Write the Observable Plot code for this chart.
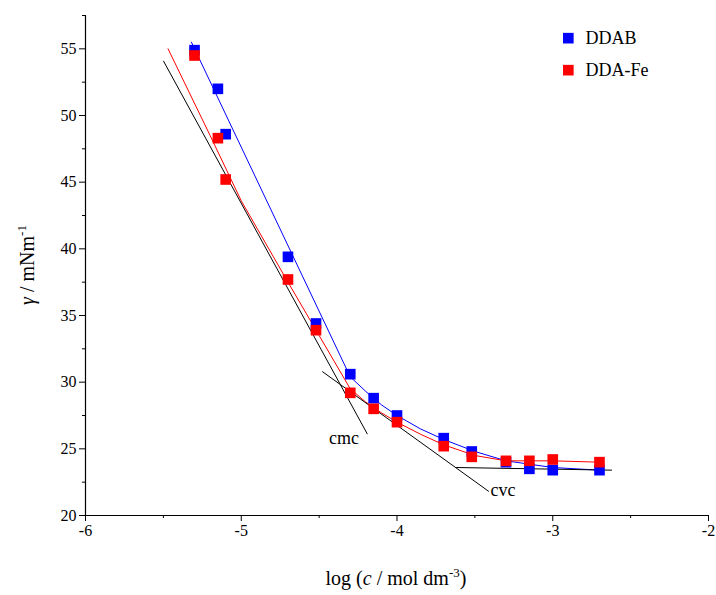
<!DOCTYPE html>
<html><head><meta charset="utf-8">
<script src="https://cdn.jsdelivr.net/npm/d3@7"></script>
<script src="https://cdn.jsdelivr.net/npm/@observablehq/plot@0.6"></script>
<style>body{margin:0;background:#fff}</style>
</head><body><div id="chart"></div>
<script>
const logc = [-5.3, -5.15, -5.1, -4.7, -4.52, -4.3, -4.15, -4.0, -3.7, -3.52, -3.3, -3.15, -3.0, -2.7];
const ddab = [54.9, 52.0, 48.6, 39.4, 34.4, 30.6, 28.8, 27.5, 25.8, 24.8, 24.0, 23.5, 23.4, 23.4];
const ddaFe = [54.5, 48.3, 45.2, 37.7, 33.9, 29.2, 28.0, 27.0, 25.2, 24.4, 24.1, 24.1, 24.2, 24.0];
// fitted curves
const fitBlueX = [-5.32, -4.3, -4.2, -4.1, -4.0, -3.85, -3.7, -3.5, -3.3, -3.0, -2.7];
const fitBlueY = [55.5, 30.4, 29.3, 28.3, 27.5, 26.5, 25.7, 24.8, 24.1, 23.6, 23.4];
const fitRedX = [-5.47, -5.2, -5.0, -4.7, -4.5, -4.3, -4.2, -4.1, -4.0, -3.85, -3.7, -3.5, -3.3, -3.0, -2.7];
const fitRedY = [55.0, 48.5, 43.6, 37.5, 33.5, 29.5, 28.5, 27.7, 27.0, 26.1, 25.3, 24.5, 24.1, 24.1, 24.0];
// tangent lines
const tangents = [
  {x1: -5.5, y1: 54.1, x2: -4.19, y2: 26.1},
  {x1: -4.48, y1: 30.8, x2: -3.41, y2: 21.8},
  {x1: -3.62, y1: 23.6, x2: -2.62, y2: 23.4}
];
const notes = [{x: -4.34, y: 25.8, t: "cmc"}, {x: -3.32, y: 21.9, t: "cvc"}];
const xTicks = [-6, -5, -4, -3, -2];
const xMinor = [-5.5, -4.5, -3.5, -2.5];
const yTicks = [20, 25, 30, 35, 40, 45, 50, 55];
const yMinor = [22.5, 27.5, 32.5, 37.5, 42.5, 47.5, 52.5, 57.5];

const pts = (ys) => logc.map((x, i) => ({x, y: ys[i]}));
const line = (xs, ys) => xs.map((x, i) => ({x, y: ys[i]}));
const font = "Liberation Serif, Times New Roman, serif";

const chart = Plot.plot({
  width: 716, height: 595,
  marginLeft: 85, marginRight: 8, marginTop: 15, marginBottom: 80,
  style: {fontFamily: font, fontSize: "16px", color: "#000", overflow: "visible"},
  x: {domain: [-6, -2], label: null},
  y: {domain: [20, 57.5], label: null},
  marks: [
    Plot.axisX(xTicks, {tickSize: 6, fontSize: 16, tickFormat: d => String(d)}),
    Plot.axisX(xMinor, {tickSize: 3, text: null}),
    Plot.axisY(yTicks, {tickSize: 6, fontSize: 16, tickFormat: d => String(d)}),
    Plot.axisY(yMinor, {tickSize: 3, text: null}),
    Plot.ruleX([-6], {stroke: "#000", strokeWidth: 1.2}),
    Plot.ruleY([20], {stroke: "#000", strokeWidth: 1.2}),
    Plot.line(line(fitBlueX, fitBlueY), {x: "x", y: "y", stroke: "#0000ff", strokeWidth: 1}),
    Plot.line(line(fitRedX, fitRedY), {x: "x", y: "y", stroke: "#ff0000", strokeWidth: 1}),
    Plot.link(tangents, {x1: "x1", y1: "y1", x2: "x2", y2: "y2", stroke: "#000", strokeWidth: 1}),
    Plot.dot(pts(ddab), {x: "x", y: "y", symbol: "square", fill: "#0000ff", r: 6}),
    Plot.dot(pts(ddaFe), {x: "x", y: "y", symbol: "square", fill: "#ff0000", r: 6}),
    Plot.text(notes, {x: "x", y: "y", text: "t", fontSize: 18, fill: "#000"}),
    Plot.dot([{x: -2.9, y: 55.8, c: "#0000ff"}, {x: -2.9, y: 53.4, c: "#ff0000"}], {x: "x", y: "y", symbol: "square", fill: "c", r: 6}),
    Plot.text([{x: -2.79, y: 55.8, t: "DDAB"}, {x: -2.79, y: 53.4, t: "DDA-Fe"}], {x: "x", y: "y", text: "t", textAnchor: "start", fontSize: 18, fill: "#000"})
  ]
});
const svg = d3.select(chart);
const xl = svg.append("text").attr("x", 396).attr("y", 585).attr("text-anchor", "middle")
  .style("font-family", font).style("font-size", "20px");
xl.append("tspan").text("log (");
xl.append("tspan").text("c").style("font-style", "italic");
xl.append("tspan").text(" / mol dm");
xl.append("tspan").text("-3").attr("dy", -8).style("font-size", "13px");
xl.append("tspan").text(")").attr("dy", 8);
const yl = svg.append("text").attr("transform", "translate(34,265) rotate(-90)").attr("text-anchor", "middle")
  .style("font-family", font).style("font-size", "20px");
yl.append("tspan").text("γ").style("font-style", "italic");
yl.append("tspan").text(" / mNm");
yl.append("tspan").text("-1").attr("dy", -8).style("font-size", "13px");
document.getElementById("chart").append(chart);
</script></body></html>
